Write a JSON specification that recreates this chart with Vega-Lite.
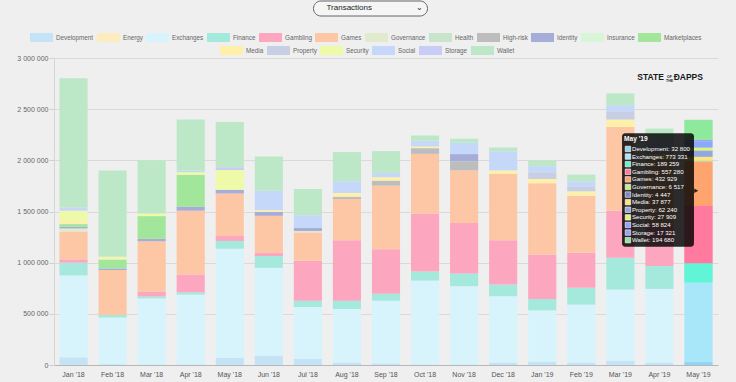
{
  "$schema": "https://vega.github.io/schema/vega-lite/v6.json",
  "width": 664,
  "height": 307,
  "autosize": {"type": "none"},
  "padding": {"left": 54, "top": 58, "right": 18, "bottom": 17},
  "background": "#efefef",
  "config": {"view": {"stroke": null}, "font": "Liberation Sans"},
  "data": {"values": [
    {"month": "Jan '18", "category": "Development", "value": 75000},
    {"month": "Jan '18", "category": "Exchanges", "value": 800000},
    {"month": "Jan '18", "category": "Finance", "value": 125000},
    {"month": "Jan '18", "category": "Gambling", "value": 32000},
    {"month": "Jan '18", "category": "Games", "value": 273000},
    {"month": "Jan '18", "category": "Governance", "value": 30000},
    {"month": "Jan '18", "category": "Identity", "value": 16000},
    {"month": "Jan '18", "category": "Marketplaces", "value": 26000},
    {"month": "Jan '18", "category": "Media", "value": 26000},
    {"month": "Jan '18", "category": "Security", "value": 105000},
    {"month": "Jan '18", "category": "Social", "value": 33000},
    {"month": "Jan '18", "category": "Wallet", "value": 1262000},
    {"month": "Feb '18", "category": "Development", "value": 8000},
    {"month": "Feb '18", "category": "Exchanges", "value": 455000},
    {"month": "Feb '18", "category": "Finance", "value": 26000},
    {"month": "Feb '18", "category": "Games", "value": 440000},
    {"month": "Feb '18", "category": "Identity", "value": 15000},
    {"month": "Feb '18", "category": "Marketplaces", "value": 88000},
    {"month": "Feb '18", "category": "Media", "value": 10000},
    {"month": "Feb '18", "category": "Security", "value": 16000},
    {"month": "Feb '18", "category": "Wallet", "value": 843000},
    {"month": "Mar '18", "category": "Development", "value": 5000},
    {"month": "Mar '18", "category": "Exchanges", "value": 646000},
    {"month": "Mar '18", "category": "Finance", "value": 20000},
    {"month": "Mar '18", "category": "Gambling", "value": 46000},
    {"month": "Mar '18", "category": "Games", "value": 492000},
    {"month": "Mar '18", "category": "Identity", "value": 23000},
    {"month": "Mar '18", "category": "Marketplaces", "value": 223000},
    {"month": "Mar '18", "category": "Security", "value": 26000},
    {"month": "Mar '18", "category": "Wallet", "value": 521000},
    {"month": "Apr '18", "category": "Development", "value": 5000},
    {"month": "Apr '18", "category": "Exchanges", "value": 683000},
    {"month": "Apr '18", "category": "Finance", "value": 23000},
    {"month": "Apr '18", "category": "Gambling", "value": 174000},
    {"month": "Apr '18", "category": "Games", "value": 623000},
    {"month": "Apr '18", "category": "Identity", "value": 39000},
    {"month": "Apr '18", "category": "Marketplaces", "value": 311000},
    {"month": "Apr '18", "category": "Security", "value": 26000},
    {"month": "Apr '18", "category": "Social", "value": 15000},
    {"month": "Apr '18", "category": "Wallet", "value": 501000},
    {"month": "May '18", "category": "Development", "value": 72000},
    {"month": "May '18", "category": "Exchanges", "value": 1065000},
    {"month": "May '18", "category": "Finance", "value": 75000},
    {"month": "May '18", "category": "Gambling", "value": 49000},
    {"month": "May '18", "category": "Games", "value": 416000},
    {"month": "May '18", "category": "Identity", "value": 36000},
    {"month": "May '18", "category": "Security", "value": 193000},
    {"month": "May '18", "category": "Storage", "value": 26000},
    {"month": "May '18", "category": "Wallet", "value": 442000},
    {"month": "Jun '18", "category": "Development", "value": 88000},
    {"month": "Jun '18", "category": "Exchanges", "value": 862000},
    {"month": "Jun '18", "category": "Finance", "value": 115000},
    {"month": "Jun '18", "category": "Gambling", "value": 33000},
    {"month": "Jun '18", "category": "Games", "value": 360000},
    {"month": "Jun '18", "category": "Identity", "value": 39000},
    {"month": "Jun '18", "category": "Media", "value": 16000},
    {"month": "Jun '18", "category": "Social", "value": 190000},
    {"month": "Jun '18", "category": "Wallet", "value": 334000},
    {"month": "Jul '18", "category": "Development", "value": 59000},
    {"month": "Jul '18", "category": "Exchanges", "value": 508000},
    {"month": "Jul '18", "category": "Finance", "value": 62000},
    {"month": "Jul '18", "category": "Gambling", "value": 390000},
    {"month": "Jul '18", "category": "Games", "value": 275000},
    {"month": "Jul '18", "category": "Governance", "value": 16000},
    {"month": "Jul '18", "category": "Identity", "value": 29000},
    {"month": "Jul '18", "category": "Social", "value": 125000},
    {"month": "Jul '18", "category": "Wallet", "value": 256000},
    {"month": "Aug '18", "category": "Development", "value": 23000},
    {"month": "Aug '18", "category": "Exchanges", "value": 524000},
    {"month": "Aug '18", "category": "Finance", "value": 82000},
    {"month": "Aug '18", "category": "Gambling", "value": 590000},
    {"month": "Aug '18", "category": "Games", "value": 403000},
    {"month": "Aug '18", "category": "High-risk", "value": 23000},
    {"month": "Aug '18", "category": "Media", "value": 36000},
    {"month": "Aug '18", "category": "Social", "value": 115000},
    {"month": "Aug '18", "category": "Wallet", "value": 285000},
    {"month": "Sep '18", "category": "Development", "value": 15000},
    {"month": "Sep '18", "category": "Exchanges", "value": 613000},
    {"month": "Sep '18", "category": "Finance", "value": 69000},
    {"month": "Sep '18", "category": "Gambling", "value": 433000},
    {"month": "Sep '18", "category": "Games", "value": 623000},
    {"month": "Sep '18", "category": "High-risk", "value": 49000},
    {"month": "Sep '18", "category": "Media", "value": 33000},
    {"month": "Sep '18", "category": "Social", "value": 42000},
    {"month": "Sep '18", "category": "Wallet", "value": 213000},
    {"month": "Oct '18", "category": "Development", "value": 5000},
    {"month": "Oct '18", "category": "Exchanges", "value": 820000},
    {"month": "Oct '18", "category": "Finance", "value": 88000},
    {"month": "Oct '18", "category": "Gambling", "value": 567000},
    {"month": "Oct '18", "category": "Games", "value": 583000},
    {"month": "Oct '18", "category": "High-risk", "value": 56000},
    {"month": "Oct '18", "category": "Media", "value": 16000},
    {"month": "Oct '18", "category": "Social", "value": 56000},
    {"month": "Oct '18", "category": "Wallet", "value": 52000},
    {"month": "Nov '18", "category": "Development", "value": 5000},
    {"month": "Nov '18", "category": "Exchanges", "value": 765000},
    {"month": "Nov '18", "category": "Finance", "value": 125000},
    {"month": "Nov '18", "category": "Gambling", "value": 492000},
    {"month": "Nov '18", "category": "Games", "value": 514000},
    {"month": "Nov '18", "category": "High-risk", "value": 88000},
    {"month": "Nov '18", "category": "Identity", "value": 72000},
    {"month": "Nov '18", "category": "Social", "value": 111000},
    {"month": "Nov '18", "category": "Wallet", "value": 39000},
    {"month": "Dec '18", "category": "Development", "value": 23000},
    {"month": "Dec '18", "category": "Exchanges", "value": 649000},
    {"month": "Dec '18", "category": "Finance", "value": 115000},
    {"month": "Dec '18", "category": "Gambling", "value": 433000},
    {"month": "Dec '18", "category": "Games", "value": 649000},
    {"month": "Dec '18", "category": "Media", "value": 33000},
    {"month": "Dec '18", "category": "Social", "value": 187000},
    {"month": "Dec '18", "category": "Wallet", "value": 36000},
    {"month": "Jan '19", "category": "Development", "value": 33000},
    {"month": "Jan '19", "category": "Exchanges", "value": 501000},
    {"month": "Jan '19", "category": "Finance", "value": 111000},
    {"month": "Jan '19", "category": "Gambling", "value": 436000},
    {"month": "Jan '19", "category": "Games", "value": 695000},
    {"month": "Jan '19", "category": "Media", "value": 42000},
    {"month": "Jan '19", "category": "Property", "value": 66000},
    {"month": "Jan '19", "category": "Social", "value": 59000},
    {"month": "Jan '19", "category": "Wallet", "value": 56000},
    {"month": "Feb '19", "category": "Development", "value": 23000},
    {"month": "Feb '19", "category": "Exchanges", "value": 567000},
    {"month": "Feb '19", "category": "Finance", "value": 164000},
    {"month": "Feb '19", "category": "Gambling", "value": 344000},
    {"month": "Feb '19", "category": "Games", "value": 557000},
    {"month": "Feb '19", "category": "Media", "value": 42000},
    {"month": "Feb '19", "category": "Property", "value": 49000},
    {"month": "Feb '19", "category": "Social", "value": 49000},
    {"month": "Feb '19", "category": "Wallet", "value": 66000},
    {"month": "Mar '19", "category": "Development", "value": 42000},
    {"month": "Mar '19", "category": "Exchanges", "value": 695000},
    {"month": "Mar '19", "category": "Finance", "value": 311000},
    {"month": "Mar '19", "category": "Gambling", "value": 459000},
    {"month": "Mar '19", "category": "Games", "value": 819000},
    {"month": "Mar '19", "category": "Media", "value": 72000},
    {"month": "Mar '19", "category": "Property", "value": 82000},
    {"month": "Mar '19", "category": "Social", "value": 59000},
    {"month": "Mar '19", "category": "Wallet", "value": 115000},
    {"month": "Apr '19", "category": "Development", "value": 23000},
    {"month": "Apr '19", "category": "Exchanges", "value": 721000},
    {"month": "Apr '19", "category": "Finance", "value": 223000},
    {"month": "Apr '19", "category": "Gambling", "value": 400000},
    {"month": "Apr '19", "category": "Games", "value": 650000},
    {"month": "Apr '19", "category": "Media", "value": 45000},
    {"month": "Apr '19", "category": "Property", "value": 70000},
    {"month": "Apr '19", "category": "Social", "value": 60000},
    {"month": "Apr '19", "category": "Storage", "value": 10000},
    {"month": "Apr '19", "category": "Wallet", "value": 108000},
    {"month": "May '19", "category": "Development", "value": 32800},
    {"month": "May '19", "category": "Exchanges", "value": 773331},
    {"month": "May '19", "category": "Finance", "value": 189259},
    {"month": "May '19", "category": "Gambling", "value": 557280},
    {"month": "May '19", "category": "Games", "value": 432929},
    {"month": "May '19", "category": "Governance", "value": 6517},
    {"month": "May '19", "category": "Identity", "value": 4447},
    {"month": "May '19", "category": "Media", "value": 37877},
    {"month": "May '19", "category": "Property", "value": 62240},
    {"month": "May '19", "category": "Security", "value": 27909},
    {"month": "May '19", "category": "Social", "value": 58824},
    {"month": "May '19", "category": "Storage", "value": 17321},
    {"month": "May '19", "category": "Wallet", "value": 194680}
  ]},
  "resolve": {
    "scale": {"y": "independent", "color": "independent"},
    "axis": {"y": "independent"},
    "legend": {"color": "independent"}
  },
  "layer": [
    {
      "transform": [
        {"stack": "value", "groupby": ["month"], "sort": [{"field": "category", "order": "ascending"}], "as": ["v0", "v1"]},
        {"filter": {"field": "category", "oneOf": ["Development", "Energy", "Exchanges", "Finance", "Gambling", "Games", "Governance", "Health", "High-risk", "Identity", "Insurance", "Marketplaces"]}}
      ],
      "mark": {"type": "bar", "strokeWidth": 0},
      "encoding": {
        "x": {"field": "month", "type": "ordinal", "title": null,
          "scale": {"domain": ["Jan '18", "Feb '18", "Mar '18", "Apr '18", "May '18", "Jun '18", "Jul '18", "Aug '18", "Sep '18", "Oct '18", "Nov '18", "Dec '18", "Jan '19", "Feb '19", "Mar '19", "Apr '19", "May '19"], "paddingInner": 0.28, "paddingOuter": 0.14},
          "axis": {"labelAngle": 0, "labelFontSize": 7, "labelColor": "#555", "labelFont": "Liberation Sans", "ticks": false, "labelPadding": 5, "domainColor": "#b8b8b8", "grid": false}},
        "y": {"field": "v0", "type": "quantitative", "title": null,
          "scale": {"domain": [0, 3000000], "nice": false},
          "axis": {"values": [0, 500000, 1000000, 1500000, 2000000, 2500000, 3000000], "labelExpr": "replace(format(datum.value, ','), regexp(',', 'g'), ' ')", "labelFontSize": 7, "labelColor": "#666", "labelFont": "Liberation Sans", "tickColor": "#d0d0d0", "tickSize": 5, "labelPadding": 1, "domainColor": "#d6d6d6", "gridColor": "#dadada", "grid": true}},
        "y2": {"field": "v1"},
        "color": {"field": "category", "type": "nominal",
          "scale": {"domain": ["Development", "Energy", "Exchanges", "Finance", "Gambling", "Games", "Governance", "Health", "High-risk", "Identity", "Insurance", "Marketplaces"],
                    "range": ["#c5e3f6", "#fdecc0", "#d7f3fc", "#a5e8dc", "#fca6bf", "#fdc7a5", "#dfeacf", "#c9e4cc", "#bdbdbd", "#a6add6", "#d8f5d8", "#a1e69b"]},
          "legend": {"orient": "none", "legendX": -24, "legendY": -32, "direction": "horizontal", "title": null, "symbolType": "M-1,-0.39H1V0.39H-1Z", "symbolSize": 529, "symbolStrokeWidth": 0, "labelFontSize": 6.3, "labelColor": "#666", "labelFont": "Liberation Sans", "labelOffset": 3, "columnPadding": 3, "labelLimit": 0}},
        "strokeDash": {"datum": "Transactions", "type": "nominal",
          "legend": {"orient": "none", "legendX": 259, "legendY": -57.5, "title": null, "strokeColor": "#666", "cornerRadius": 8, "padding": 3.5, "fillColor": "#f5f5f5", "symbolOpacity": 0, "symbolStrokeWidth": 0, "symbolSize": 1, "labelFontSize": 8, "labelColor": "#222", "labelFont": "Liberation Sans", "labelOffset": 2, "labelLimit": 0,
                     "labelExpr": "datum.label + '\u00a0\u00a0\u00a0\u00a0\u00a0\u00a0\u00a0\u00a0\u00a0\u00a0\u00a0\u00a0\u00a0\u00a0\u00a0\u00a0\u00a0\u00a0\u00a0\u00a0⌄'"}}
      }
    },
    {
      "transform": [
        {"stack": "value", "groupby": ["month"], "sort": [{"field": "category", "order": "ascending"}], "as": ["v0", "v1"]},
        {"filter": {"field": "category", "oneOf": ["Media", "Property", "Security", "Social", "Storage", "Wallet"]}}
      ],
      "mark": {"type": "bar", "strokeWidth": 0},
      "encoding": {
        "x": {"field": "month", "type": "ordinal", "title": null},
        "y": {"field": "v0", "type": "quantitative", "scale": {"domain": [0, 3000000], "nice": false}, "axis": null},
        "y2": {"field": "v1"},
        "color": {"field": "category", "type": "nominal",
          "scale": {"domain": ["Media", "Property", "Security", "Social", "Storage", "Wallet"],
                    "range": ["#fff0a9", "#c8cfe5", "#eefaa8", "#c6d8fa", "#c8cdf8", "#bce8c8"]},
          "legend": {"orient": "none", "legendX": 166, "legendY": -19, "direction": "horizontal", "title": null, "symbolType": "M-1,-0.39H1V0.39H-1Z", "symbolSize": 529, "symbolStrokeWidth": 0, "labelFontSize": 6.3, "labelColor": "#666", "labelFont": "Liberation Sans", "labelOffset": 3, "columnPadding": 3, "labelLimit": 0}}
      }
    },
    {
      "transform": [
        {"stack": "value", "groupby": ["month"], "sort": [{"field": "category", "order": "ascending"}], "as": ["v0", "v1"]},
        {"filter": "datum.month === \"May '19\""}
      ],
      "mark": {"type": "bar", "strokeWidth": 0},
      "encoding": {
        "x": {"field": "month", "type": "ordinal", "title": null},
        "y": {"field": "v0", "type": "quantitative", "scale": {"domain": [0, 3000000], "nice": false}, "axis": null},
        "y2": {"field": "v1"},
        "color": {"field": "category", "type": "nominal",
          "scale": {"domain": ["Development", "Exchanges", "Finance", "Gambling", "Games", "Governance", "Identity", "Media", "Property", "Security", "Social", "Storage", "Wallet"],
                    "range": ["#92d4f6", "#a8e6fa", "#5ff5d6", "#ff7a9e", "#ffa46e", "#c5ef8d", "#7e86c9", "#ffe57f", "#93a8de", "#dbf674", "#8aa9f6", "#97a3f8", "#8ee99d"]},
          "legend": null}
      }
    },
    {
      "data": {"values": [{"box": "tooltip"}]},
      "mark": {"type": "rect", "color": "#000", "opacity": 0.82, "cornerRadius": 3},
      "encoding": {
        "x": {"datum": "Mar '19", "type": "ordinal", "bandPosition": 0.56},
        "x2": {"datum": "May '19", "bandPosition": 0.34},
        "y": {"datum": -1.06, "type": "quantitative", "scale": {"domain": [-10.97, 29.43], "reverse": true, "nice": false, "zero": false}, "axis": null},
        "y2": {"datum": 13.86}
      }
    },
    {
      "data": {"values": [{"box": "caret"}]},
      "mark": {"type": "point", "shape": "triangle-right", "filled": true, "color": "#000", "opacity": 0.82, "size": 22},
      "encoding": {
        "x": {"datum": "May '19", "type": "ordinal", "bandPosition": 0.42},
        "y": {"datum": 6.5, "type": "quantitative", "scale": {"domain": [-10.97, 29.43], "reverse": true, "nice": false, "zero": false}, "axis": null}
      }
    },
    {
      "data": {"values": [{"title": "May '19"}]},
      "mark": {"type": "text", "color": "#fff", "fontWeight": "bold", "fontSize": 6.6, "align": "left", "baseline": "middle", "font": "Liberation Sans"},
      "encoding": {
        "x": {"datum": "Mar '19", "type": "ordinal", "bandPosition": 0.63},
        "y": {"datum": -0.31, "type": "quantitative", "scale": {"domain": [-10.97, 29.43], "reverse": true, "nice": false, "zero": false}, "axis": null},
        "text": {"field": "title"}
      }
    },
    {
      "transform": [
        {"filter": "datum.month === \"May '19\""},
        {"window": [{"op": "row_number", "as": "idx"}], "sort": [{"field": "category", "order": "ascending"}]},
        {"calculate": "datum.category + ': ' + replace(format(datum.value, ','), regexp(',', 'g'), ' ')", "as": "label"}
      ],
      "mark": {"type": "text", "color": "#fff", "fontSize": 6.1, "align": "left", "baseline": "middle", "font": "Liberation Sans"},
      "encoding": {
        "x": {"datum": "Mar '19", "type": "ordinal", "bandPosition": 0.915},
        "y": {"field": "idx", "type": "quantitative", "scale": {"domain": [-10.97, 29.43], "reverse": true, "nice": false, "zero": false}, "axis": null},
        "text": {"field": "label"}
      }
    },
    {
      "transform": [
        {"filter": "datum.month === \"May '19\""},
        {"window": [{"op": "row_number", "as": "idx"}], "sort": [{"field": "category", "order": "ascending"}]}
      ],
      "mark": {"type": "square", "filled": true, "size": 30, "stroke": "#fff", "strokeWidth": 0.6, "opacity": 1},
      "encoding": {
        "x": {"datum": "Mar '19", "type": "ordinal", "bandPosition": 0.77},
        "y": {"field": "idx", "type": "quantitative", "scale": {"domain": [-10.97, 29.43], "reverse": true, "nice": false, "zero": false}, "axis": null},
        "color": {"field": "category", "type": "nominal",
          "scale": {"domain": ["Development", "Exchanges", "Finance", "Gambling", "Games", "Governance", "Identity", "Media", "Property", "Security", "Social", "Storage", "Wallet"],
                    "range": ["#92d4f6", "#a8e6fa", "#5ff5d6", "#ff7a9e", "#ffa46e", "#c5ef8d", "#7e86c9", "#ffe57f", "#93a8de", "#dbf674", "#8aa9f6", "#97a3f8", "#8ee99d"]},
          "legend": null}
      }
    },
    {
      "data": {"values": [{"logo": "STATE"}]},
      "mark": {"type": "text", "color": "#1a1a1a", "fontWeight": "bold", "fontSize": 8.5, "align": "left", "baseline": "middle", "font": "Liberation Sans", "dx": -8},
      "encoding": {
        "x": {"datum": "Apr '19", "type": "ordinal", "bandPosition": 0},
        "y": {"datum": 2814000, "type": "quantitative", "scale": {"domain": [0, 3000000], "nice": false}, "axis": null},
        "text": {"field": "logo"}
      }
    },
    {
      "data": {"values": [{"logo": "ĐAPPS"}]},
      "mark": {"type": "text", "color": "#1a1a1a", "fontWeight": "bold", "fontSize": 8.5, "align": "right", "baseline": "middle", "font": "Liberation Sans"},
      "encoding": {
        "x": {"datum": "May '19", "type": "ordinal", "bandPosition": 0.66},
        "y": {"datum": 2814000, "type": "quantitative", "scale": {"domain": [0, 3000000], "nice": false}, "axis": null},
        "text": {"field": "logo"}
      }
    },
    {
      "data": {"values": [{"logo": ["OF", "THE"]}]},
      "mark": {"type": "text", "color": "#1a1a1a", "fontWeight": "bold", "fontSize": 3.5, "lineHeight": 4, "align": "center", "baseline": "middle", "font": "Liberation Sans"},
      "encoding": {
        "x": {"datum": "Apr '19", "type": "ordinal", "bandPosition": 0.86},
        "y": {"datum": 2814000, "type": "quantitative", "scale": {"domain": [0, 3000000], "nice": false}, "axis": null},
        "text": {"field": "logo"}
      }
    }
  ]
}
